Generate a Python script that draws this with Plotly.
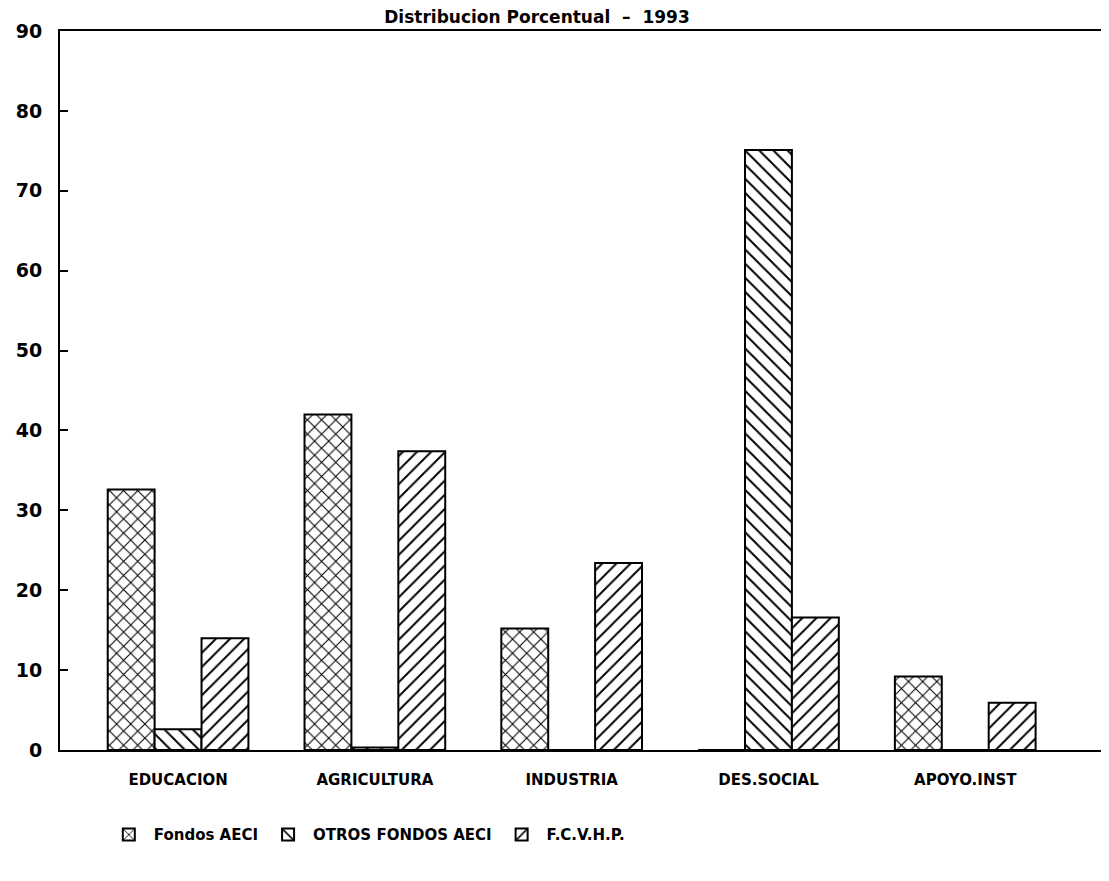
import plotly.graph_objects as go

categories = ["EDUCACION", "AGRICULTURA", "INDUSTRIA", "DES.SOCIAL", "APOYO.INST"]
series_names = ["Fondos AECI", "OTROS FONDOS AECI", "F.C.V.H.P."]
fondos_aeci = [32.6, 42.0, 15.2, 0.0, 9.2]
otros_fondos_aeci = [2.6, 0.3, 0.0, 75.1, 0.0]
fcvhp = [14.0, 37.4, 23.4, 16.6, 5.9]
y_ticks = [0, 10, 20, 30, 40, 50, 60, 70, 80, 90]
title_text = "Distribucion Porcentual  \u2013  1993"

FONT = "DejaVu Sans"
series_values = [fondos_aeci, otros_fondos_aeci, fcvhp]
patterns = ["x", "\\", "/"]

W, H = 1101, 873

fig = go.Figure()
for name, vals, pat in zip(series_names, series_values, patterns):
    fig.add_trace(go.Bar(
        x=categories, y=vals, name=name,
        marker=dict(
            color="white",
            line=dict(color="black", width=2),
            pattern=dict(shape=pat, fgcolor="black", bgcolor="white", fgopacity=1,
                         size=10, solidity=0.2, fillmode="replace"),
        ),
    ))

fig.update_layout(
    width=W, height=H,
    paper_bgcolor="white", plot_bgcolor="white",
    barmode="group", bargap=0.285, bargroupgap=0,
    margin=dict(l=52, r=6, t=23, b=131, autoexpand=False),
    font=dict(family=FONT, color="black", size=15, weight="bold"),
    title=dict(text=title_text, x=529 / W, xanchor="center",
               y=1 - 9 / H, yanchor="middle", automargin=False,
               font=dict(family=FONT, size=17, color="black", weight="bold")),
    showlegend=True,
    legend=dict(orientation="h", x=0.042, xanchor="left", y=-0.118, yanchor="middle",
                font=dict(family=FONT, size=15, color="black", weight="bold"),
                itemwidth=40, tracegroupgap=0, bgcolor="rgba(0,0,0,0)"),
)

fig.update_xaxes(
    type="category", range=[-0.6, 4.7], automargin=False,
    showline=True, linecolor="black", linewidth=2, mirror=True,
    showgrid=False, ticks="", ticklabelstandoff=15,
    tickfont=dict(family=FONT, size=15, color="black", weight="bold"),
)
fig.update_yaxes(
    range=[0, 90], tickvals=y_ticks, ticktext=[str(v) for v in y_ticks],
    automargin=False,
    showline=True, linecolor="black", linewidth=2, mirror=True,
    showgrid=False, zeroline=False,
    ticks="inside", ticklen=8, tickwidth=2, tickcolor="black",
    ticklabelstandoff=12,
    tickfont=dict(family=FONT, size=19, color="black", weight="bold"),
)

fig.write_html("out.html")
